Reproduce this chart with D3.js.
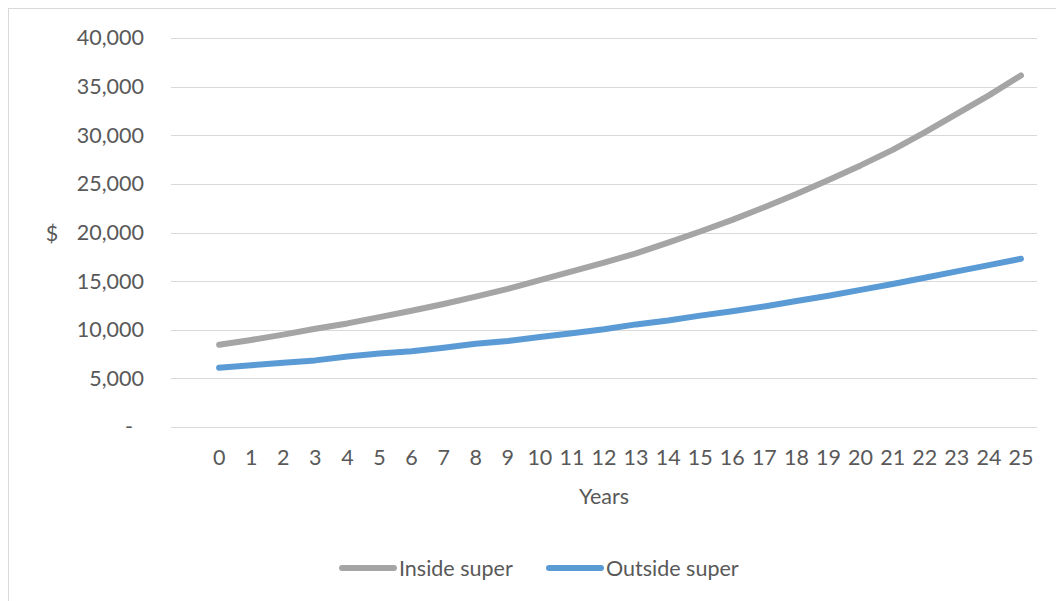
<!DOCTYPE html>
<html>
<head>
<meta charset="utf-8">
<script src="https://cdn.jsdelivr.net/npm/d3@7"></script>
<style>
  html, body { margin: 0; padding: 0; background: #fff; }
  svg { display: block; font-family: Lato, "Open Sans", sans-serif; }
</style>
</head>
<body>
<svg id="chart" width="1056" height="601"></svg>
<script>
// Years since start (a leading blank slot keeps the first year off the axis edge)
const years = d3.range(0, 26).map(String);
const categories = [""].concat(years);

// Balance projections ($)
const insideSuper = [8450, 8950, 9500, 10100, 10650, 11300, 11950, 12650, 13400, 14200,
  15100, 16000, 16900, 17850, 18950, 20100, 21300, 22600, 23950, 25400,
  26900, 28500, 30300, 32200, 34100, 36150];
const outsideSuper = [6100, 6350, 6600, 6850, 7250, 7550, 7800, 8150, 8550, 8850,
  9250, 9650, 10050, 10550, 10950, 11450, 11900, 12400, 12950, 13500,
  14100, 14700, 15350, 16000, 16650, 17300];

const yTicks = [0, 5000, 10000, 15000, 20000, 25000, 30000, 35000, 40000];
const seriesNames = ["Inside super", "Outside super"];
const seriesColors = ["#a5a5a5", "#5b9bd5"];

const svg = d3.select("#chart");
const plot = { left: 171, right: 1037, top: 38, bottom: 427 };

// chart frame
svg.append("rect")
  .attr("x", 8.5).attr("y", 8.5)
  .attr("width", 1100).attr("height", 700)
  .attr("fill", "#fff").attr("stroke", "#d9d9d9").attr("stroke-width", 1);

const x = d3.scaleBand().domain(categories).range([plot.left, plot.right]);
const y = d3.scaleLinear().domain([0, 40000]).range([plot.bottom, plot.top]);

// horizontal gridlines
svg.append("g")
  .selectAll("line").data(yTicks).join("line")
  .attr("x1", plot.left).attr("x2", plot.right)
  .attr("y1", d => Math.round(y(d)) + 0.5).attr("y2", d => Math.round(y(d)) + 0.5)
  .attr("stroke", "#d9d9d9").attr("stroke-width", 1);

// y axis labels
const fmt = d3.format(",");
const yAxis = d3.axisLeft(y).tickValues(yTicks).tickSize(0).tickPadding(0)
  .tickFormat(d => d === 0 ? "-" : fmt(d));
const gy = svg.append("g").attr("transform", `translate(${144},0)`).call(yAxis);
gy.select(".domain").remove();
gy.selectAll("text")
  .attr("fill", "#595959").style("font-size", "21.5px").style("font-family", "Lato, sans-serif")
  .attr("x", d => d === 0 ? -11 : 0);

// x axis labels
const xAxis = d3.axisBottom(x).tickValues(years).tickSize(0).tickPadding(0);
const gx = svg.append("g").attr("transform", `translate(0,${plot.bottom})`).call(xAxis);
gx.select(".domain").remove();
gx.selectAll("text")
  .attr("fill", "#595959").style("font-size", "21.5px").style("font-family", "Lato, sans-serif")
  .attr("dy", null).attr("y", 38);

// axis titles
svg.append("text").attr("x", 52).attr("y", 241).attr("text-anchor", "middle")
  .attr("fill", "#595959").style("font-size", "21.5px").text("$");
svg.append("text").attr("x", 604).attr("y", 504).attr("text-anchor", "middle")
  .attr("fill", "#595959").style("font-size", "21.5px").text("Years");

// series lines
const line = d3.line()
  .x((d, i) => x(years[i]) + x.bandwidth() / 2)
  .y(d => y(d));

[insideSuper, outsideSuper].forEach((vals, k) => {
  svg.append("path").datum(vals)
    .attr("d", line)
    .attr("fill", "none")
    .attr("stroke", seriesColors[k])
    .attr("stroke-width", 6)
    .attr("stroke-linecap", "round")
    .attr("stroke-linejoin", "round");
});

// legend
const legendItems = [{ x: 340 }, { x: 547 }];
const lg = svg.append("g");
seriesNames.forEach((name, k) => {
  const x0 = legendItems[k].x;
  lg.append("line").attr("x1", x0 + 2).attr("x2", x0 + 54)
    .attr("y1", 568).attr("y2", 568)
    .attr("stroke", seriesColors[k]).attr("stroke-width", 6).attr("stroke-linecap", "round");
  lg.append("text").attr("x", x0 + 59).attr("y", 575.5)
    .attr("fill", "#595959").style("font-size", "21.5px").text(name);
});
</script>
</body>
</html>
